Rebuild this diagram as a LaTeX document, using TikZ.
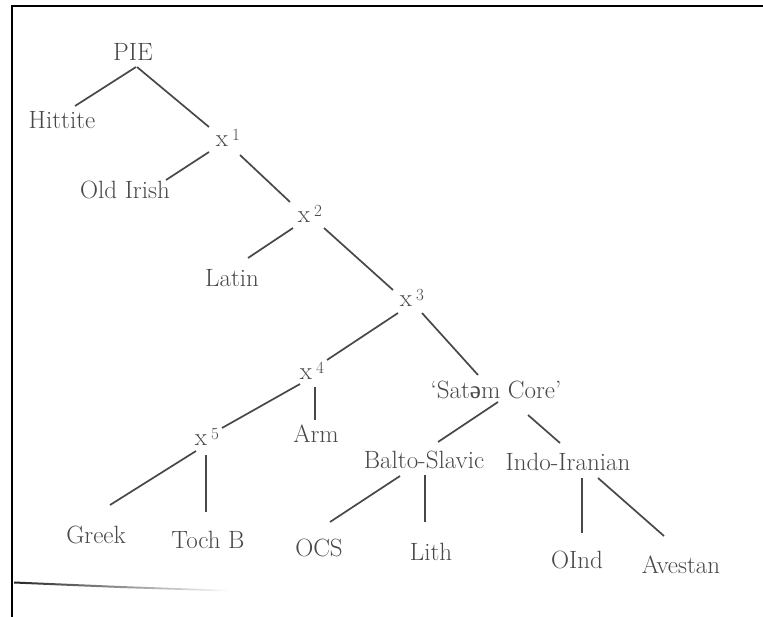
\documentclass[tikz,border=0pt]{standalone}
\usepackage{fontspec}
\newfontfamily\schwafont{Liberation Serif}
\usetikzlibrary{calc}
\definecolor{ink}{HTML}{484848}
\tikzset{
  lbl/.style={inner sep=0pt, text=ink, font=\fontsize{25}{27}\selectfont},
  br/.style={draw=ink, line width=1.7pt},
}
\newcommand{\xs}[1]{x\,\raisebox{0.5ex}{\fontsize{17}{17}\selectfont #1}}
\begin{document}
\begin{tikzpicture}[x=1pt,y=-1pt]
\useasboundingbox (0,0) rectangle (763,617);
\fill[white] (0,0) rectangle (763,617);
% frame
\draw[black, line width=2pt] (12,617) -- (12,6) -- (763,6);
\shade[left color=black!85, right color=white] (14,581.5) -- (120,586) -- (230,590) -- (230,591.5) -- (120,588) -- (14,583.5) -- cycle;
% nodes
\node[lbl] (pie) at (133,52) {PIE};
\node[lbl] (hit) at (62,120) {Hittite};
\node[lbl] (x1) at (228,138) {\xs{1}};
\node[lbl] (oir) at (125,190) {Old Irish};
\node[lbl] (x2) at (310,214) {\xs{2}};
\node[lbl] (lat) at (232,278) {Latin};
\node[lbl] (x3) at (412,298) {\xs{3}};
\node[lbl] (x4) at (312,371) {\xs{4}};
\node[lbl] (sat) at (496,390) {`Sat{\schwafont ə}m Core'};
\node[lbl] (x5) at (207,437) {\xs{5}};
\node[lbl] (arm) at (316,434) {Arm};
\node[lbl] (bs) at (424,460) {Balto-Slavic};
\node[lbl] (ii) at (568,462) {Indo-Iranian};
\node[lbl] (gr) at (96,535) {Greek};
\node[lbl] (tb) at (208,540) {Toch B};
\node[lbl] (ocs) at (319,548) {OCS};
\node[lbl] (lit) at (431,552) {Lith};
\node[lbl] (oin) at (577,560) {OInd};
\node[lbl] (ave) at (681,565) {Avestan};
% branches
\draw[br] ($(pie)+(3,15)$) -- ($(hit)+(13,-14)$);
\draw[br] ($(pie)+(4,15)$) -- ($(x1)+(-19,-11)$);
\draw[br] ($(x1)+(-19,14)$) -- ($(oir)+(41,-10)$);
\draw[br] ($(x1)+(12,17)$) -- ($(x2)+(-20,-12)$);
\draw[br] ($(x2)+(-17,14)$) -- ($(lat)+(16,-20)$);
\draw[br] ($(x2)+(14,14)$) -- ($(x3)+(-19,-8)$);
\draw[br] ($(x3)+(-14,15)$) -- ($(x4)+(15,-11)$);
\draw[br] ($(x3)+(10,15)$) -- ($(sat)+(-18,-15)$);
\draw[br] ($(sat)+(2,12)$) -- ($(bs)+(14,-18)$);
\draw[br] ($(sat)+(32,25)$) -- ($(ii)+(-8,-19)$);
\draw[br] ($(x4)+(-12,13)$) -- ($(x5)+(15,-9)$);
\draw[br] ($(x4)+(3,16)$) -- ($(arm)+(-1,-14)$);
\draw[br] ($(x5)+(-11,14)$) -- ($(gr)+(14,-30)$);
\draw[br] ($(x5)+(-1,18)$) -- ($(tb)+(-2,-28)$);
\draw[br] ($(bs)+(-24,16)$) -- ($(ocs)+(11,-26)$);
\draw[br] ($(bs)+(1,15)$) -- ($(lit)+(-6,-30)$);
\draw[br] ($(ii)+(14,16)$) -- ($(oin)+(5,-27)$);
\draw[br] ($(ii)+(30,16)$) -- ($(ave)+(-17,-29)$);
\end{tikzpicture}
\end{document}
